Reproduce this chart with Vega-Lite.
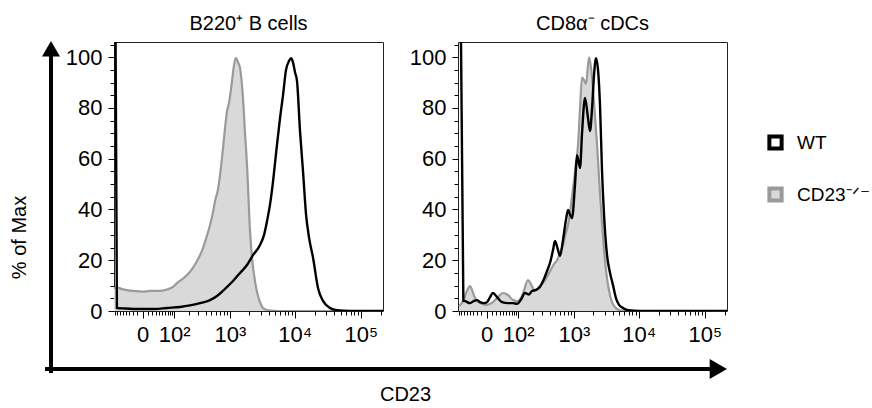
{
  "$schema": "https://vega.github.io/schema/vega-lite/v6.json",
  "background": "white",
  "padding": {"left": 9, "top": 13, "right": 0, "bottom": 0},
  "config": {
    "font": "Liberation Sans",
    "view": {"stroke": "#222", "strokeWidth": 1},
    "axis": {"labelFont": "Liberation Sans", "titleFont": "Liberation Sans", "labelColor": "#000", "titleColor": "#000", "tickColor": "#000", "tickWidth": 1, "grid": false, "domain": false, "titleFontWeight": "normal"},
    "title": {"font": "Liberation Sans", "fontSize": 20, "fontWeight": "normal", "color": "#000"},
    "legend": {"labelFont": "Liberation Sans"}
  },
  "datasets": {
    "hist": [
      {"panel": "B", "g": "CD23-/-", "x": -85, "y": 9.0},
      {"panel": "B", "g": "CD23-/-", "x": -71.5, "y": 9.2},
      {"panel": "B", "g": "CD23-/-", "x": -48.6, "y": 8.5},
      {"panel": "B", "g": "CD23-/-", "x": -19.6, "y": 7.9},
      {"panel": "B", "g": "CD23-/-", "x": 0.9, "y": 7.6},
      {"panel": "B", "g": "CD23-/-", "x": 14.9, "y": 7.9},
      {"panel": "B", "g": "CD23-/-", "x": 38.9, "y": 7.9},
      {"panel": "B", "g": "CD23-/-", "x": 67, "y": 8.5},
      {"panel": "B", "g": "CD23-/-", "x": 94.7, "y": 9.5},
      {"panel": "B", "g": "CD23-/-", "x": 116, "y": 11.0},
      {"panel": "B", "g": "CD23-/-", "x": 148, "y": 12.5},
      {"panel": "B", "g": "CD23-/-", "x": 186, "y": 14.2},
      {"panel": "B", "g": "CD23-/-", "x": 230, "y": 16.5},
      {"panel": "B", "g": "CD23-/-", "x": 284, "y": 19.7},
      {"panel": "B", "g": "CD23-/-", "x": 361, "y": 24.8},
      {"panel": "B", "g": "CD23-/-", "x": 407, "y": 28.5},
      {"panel": "B", "g": "CD23-/-", "x": 475, "y": 33.9},
      {"panel": "B", "g": "CD23-/-", "x": 533, "y": 39.0},
      {"panel": "B", "g": "CD23-/-", "x": 575, "y": 43.3},
      {"panel": "B", "g": "CD23-/-", "x": 644, "y": 48.0},
      {"panel": "B", "g": "CD23-/-", "x": 693, "y": 53.5},
      {"panel": "B", "g": "CD23-/-", "x": 775, "y": 64.2},
      {"panel": "B", "g": "CD23-/-", "x": 835, "y": 72},
      {"panel": "B", "g": "CD23-/-", "x": 899, "y": 78.7},
      {"panel": "B", "g": "CD23-/-", "x": 967, "y": 82},
      {"panel": "B", "g": "CD23-/-", "x": 1079, "y": 90.6},
      {"panel": "B", "g": "CD23-/-", "x": 1161, "y": 97},
      {"panel": "B", "g": "CD23-/-", "x": 1249, "y": 99.8},
      {"panel": "B", "g": "CD23-/-", "x": 1342, "y": 98},
      {"panel": "B", "g": "CD23-/-", "x": 1443, "y": 95.7},
      {"panel": "B", "g": "CD23-/-", "x": 1606, "y": 83.9},
      {"panel": "B", "g": "CD23-/-", "x": 1726, "y": 70},
      {"panel": "B", "g": "CD23-/-", "x": 1854, "y": 57.5},
      {"panel": "B", "g": "CD23-/-", "x": 2065, "y": 31.5},
      {"panel": "B", "g": "CD23-/-", "x": 2215, "y": 21},
      {"panel": "B", "g": "CD23-/-", "x": 2465, "y": 11.8},
      {"panel": "B", "g": "CD23-/-", "x": 2645, "y": 7.5},
      {"panel": "B", "g": "CD23-/-", "x": 2945, "y": 3.5},
      {"panel": "B", "g": "CD23-/-", "x": 3275, "y": 1.2},
      {"panel": "B", "g": "CD23-/-", "x": 3905, "y": 0.3},
      {"panel": "B", "g": "CD23-/-", "x": 5960, "y": 0},
      {"panel": "B", "g": "CD23-/-", "x": 217000, "y": 0},

      {"panel": "B", "g": "WT", "x": -85, "y": 110},
      {"panel": "B", "g": "WT", "x": -78, "y": 110},
      {"panel": "B", "g": "WT", "x": -72, "y": 1.2},
      {"panel": "B", "g": "WT", "x": -42, "y": 1.0},
      {"panel": "B", "g": "WT", "x": -4.2, "y": 0.8},
      {"panel": "B", "g": "WT", "x": 27, "y": 0.8},
      {"panel": "B", "g": "WT", "x": 67, "y": 1.2},
      {"panel": "B", "g": "WT", "x": 135, "y": 1.6},
      {"panel": "B", "g": "WT", "x": 211, "y": 2.2},
      {"panel": "B", "g": "WT", "x": 320, "y": 3.1},
      {"panel": "B", "g": "WT", "x": 475, "y": 4.3},
      {"panel": "B", "g": "WT", "x": 620, "y": 5.9},
      {"panel": "B", "g": "WT", "x": 835, "y": 8.7},
      {"panel": "B", "g": "WT", "x": 1119, "y": 11.8},
      {"panel": "B", "g": "WT", "x": 1443, "y": 15},
      {"panel": "B", "g": "WT", "x": 1854, "y": 18.1},
      {"panel": "B", "g": "WT", "x": 2295, "y": 22},
      {"panel": "B", "g": "WT", "x": 2945, "y": 26},
      {"panel": "B", "g": "WT", "x": 3395, "y": 30},
      {"panel": "B", "g": "WT", "x": 3770, "y": 35.4},
      {"panel": "B", "g": "WT", "x": 4195, "y": 42},
      {"panel": "B", "g": "WT", "x": 4660, "y": 51},
      {"panel": "B", "g": "WT", "x": 5180, "y": 62},
      {"panel": "B", "g": "WT", "x": 5960, "y": 76},
      {"panel": "B", "g": "WT", "x": 6620, "y": 85},
      {"panel": "B", "g": "WT", "x": 7355, "y": 95},
      {"panel": "B", "g": "WT", "x": 8170, "y": 98.5},
      {"panel": "B", "g": "WT", "x": 8765, "y": 99.6},
      {"panel": "B", "g": "WT", "x": 9400, "y": 98},
      {"panel": "B", "g": "WT", "x": 10090, "y": 94},
      {"panel": "B", "g": "WT", "x": 10815, "y": 90.6},
      {"panel": "B", "g": "WT", "x": 12000, "y": 71},
      {"panel": "B", "g": "WT", "x": 13340, "y": 55},
      {"panel": "B", "g": "WT", "x": 14835, "y": 38},
      {"panel": "B", "g": "WT", "x": 16450, "y": 29},
      {"panel": "B", "g": "WT", "x": 18940, "y": 21},
      {"panel": "B", "g": "WT", "x": 22540, "y": 9},
      {"panel": "B", "g": "WT", "x": 26800, "y": 4},
      {"panel": "B", "g": "WT", "x": 34250, "y": 1.2},
      {"panel": "B", "g": "WT", "x": 43750, "y": 0.3},
      {"panel": "B", "g": "WT", "x": 68850, "y": 0},
      {"panel": "B", "g": "WT", "x": 217000, "y": 0},

      {"panel": "DC", "g": "CD23-/-", "x": -80, "y": 2},
      {"panel": "DC", "g": "CD23-/-", "x": -63, "y": 3.9},
      {"panel": "DC", "g": "CD23-/-", "x": -48.6, "y": 8},
      {"panel": "DC", "g": "CD23-/-", "x": -38.8, "y": 9.8},
      {"panel": "DC", "g": "CD23-/-", "x": -27, "y": 6},
      {"panel": "DC", "g": "CD23-/-", "x": -19.6, "y": 3.9},
      {"panel": "DC", "g": "CD23-/-", "x": -8.5, "y": 2.8},
      {"panel": "DC", "g": "CD23-/-", "x": 0.9, "y": 2.4},
      {"panel": "DC", "g": "CD23-/-", "x": 12.7, "y": 3.5},
      {"panel": "DC", "g": "CD23-/-", "x": 24.6, "y": 5.5},
      {"panel": "DC", "g": "CD23-/-", "x": 38.9, "y": 7.1},
      {"panel": "DC", "g": "CD23-/-", "x": 55.7, "y": 6.3},
      {"panel": "DC", "g": "CD23-/-", "x": 76, "y": 4.3},
      {"panel": "DC", "g": "CD23-/-", "x": 99.8, "y": 3.9},
      {"panel": "DC", "g": "CD23-/-", "x": 128, "y": 7},
      {"panel": "DC", "g": "CD23-/-", "x": 162, "y": 12.2},
      {"panel": "DC", "g": "CD23-/-", "x": 186, "y": 10.5},
      {"panel": "DC", "g": "CD23-/-", "x": 221, "y": 7.9},
      {"panel": "DC", "g": "CD23-/-", "x": 261, "y": 9.5},
      {"panel": "DC", "g": "CD23-/-", "x": 308, "y": 11},
      {"panel": "DC", "g": "CD23-/-", "x": 361, "y": 13.5},
      {"panel": "DC", "g": "CD23-/-", "x": 407, "y": 15.7},
      {"panel": "DC", "g": "CD23-/-", "x": 475, "y": 18.5},
      {"panel": "DC", "g": "CD23-/-", "x": 533, "y": 20},
      {"panel": "DC", "g": "CD23-/-", "x": 597, "y": 23},
      {"panel": "DC", "g": "CD23-/-", "x": 668, "y": 26},
      {"panel": "DC", "g": "CD23-/-", "x": 747, "y": 31},
      {"panel": "DC", "g": "CD23-/-", "x": 805, "y": 33.9},
      {"panel": "DC", "g": "CD23-/-", "x": 899, "y": 42},
      {"panel": "DC", "g": "CD23-/-", "x": 967, "y": 48.4},
      {"panel": "DC", "g": "CD23-/-", "x": 1079, "y": 58},
      {"panel": "DC", "g": "CD23-/-", "x": 1161, "y": 65.4},
      {"panel": "DC", "g": "CD23-/-", "x": 1249, "y": 80},
      {"panel": "DC", "g": "CD23-/-", "x": 1342, "y": 92},
      {"panel": "DC", "g": "CD23-/-", "x": 1443, "y": 91},
      {"panel": "DC", "g": "CD23-/-", "x": 1550, "y": 89.5},
      {"panel": "DC", "g": "CD23-/-", "x": 1726, "y": 100},
      {"panel": "DC", "g": "CD23-/-", "x": 1854, "y": 96},
      {"panel": "DC", "g": "CD23-/-", "x": 2065, "y": 82},
      {"panel": "DC", "g": "CD23-/-", "x": 2295, "y": 66},
      {"panel": "DC", "g": "CD23-/-", "x": 2555, "y": 46},
      {"panel": "DC", "g": "CD23-/-", "x": 2845, "y": 29},
      {"panel": "DC", "g": "CD23-/-", "x": 3160, "y": 16},
      {"panel": "DC", "g": "CD23-/-", "x": 3515, "y": 8},
      {"panel": "DC", "g": "CD23-/-", "x": 3905, "y": 3.5},
      {"panel": "DC", "g": "CD23-/-", "x": 4345, "y": 1.5},
      {"panel": "DC", "g": "CD23-/-", "x": 5180, "y": 0.3},
      {"panel": "DC", "g": "CD23-/-", "x": 7355, "y": 0},
      {"panel": "DC", "g": "CD23-/-", "x": 217000, "y": 0},

      {"panel": "DC", "g": "WT", "x": -85, "y": 110},
      {"panel": "DC", "g": "WT", "x": -72, "y": 110},
      {"panel": "DC", "g": "WT", "x": -62, "y": 4},
      {"panel": "DC", "g": "WT", "x": -55.7, "y": 3.9},
      {"panel": "DC", "g": "WT", "x": -38.8, "y": 3.1},
      {"panel": "DC", "g": "WT", "x": -27, "y": 4.0},
      {"panel": "DC", "g": "WT", "x": -19.6, "y": 4.3},
      {"panel": "DC", "g": "WT", "x": -12.7, "y": 3.5},
      {"panel": "DC", "g": "WT", "x": -4.2, "y": 3.1},
      {"panel": "DC", "g": "WT", "x": 0.9, "y": 3.5},
      {"panel": "DC", "g": "WT", "x": 6.5, "y": 5.5},
      {"panel": "DC", "g": "WT", "x": 12.7, "y": 7.1},
      {"panel": "DC", "g": "WT", "x": 22, "y": 5.5},
      {"panel": "DC", "g": "WT", "x": 35.8, "y": 3.5},
      {"panel": "DC", "g": "WT", "x": 55.7, "y": 3.1},
      {"panel": "DC", "g": "WT", "x": 76, "y": 3.1},
      {"panel": "DC", "g": "WT", "x": 94.7, "y": 2.8},
      {"panel": "DC", "g": "WT", "x": 116, "y": 4.5},
      {"panel": "DC", "g": "WT", "x": 141, "y": 7.1},
      {"panel": "DC", "g": "WT", "x": 170, "y": 6.5},
      {"panel": "DC", "g": "WT", "x": 194, "y": 7.9},
      {"panel": "DC", "g": "WT", "x": 230, "y": 8.3},
      {"panel": "DC", "g": "WT", "x": 272, "y": 9.5},
      {"panel": "DC", "g": "WT", "x": 308, "y": 11.8},
      {"panel": "DC", "g": "WT", "x": 361, "y": 15.7},
      {"panel": "DC", "g": "WT", "x": 407, "y": 19},
      {"panel": "DC", "g": "WT", "x": 457, "y": 24},
      {"panel": "DC", "g": "WT", "x": 493, "y": 27.6},
      {"panel": "DC", "g": "WT", "x": 553, "y": 24},
      {"panel": "DC", "g": "WT", "x": 597, "y": 21.7},
      {"panel": "DC", "g": "WT", "x": 668, "y": 28},
      {"panel": "DC", "g": "WT", "x": 747, "y": 36},
      {"panel": "DC", "g": "WT", "x": 805, "y": 39.8},
      {"panel": "DC", "g": "WT", "x": 866, "y": 38},
      {"panel": "DC", "g": "WT", "x": 932, "y": 36.6},
      {"panel": "DC", "g": "WT", "x": 1041, "y": 50},
      {"panel": "DC", "g": "WT", "x": 1119, "y": 61.4},
      {"panel": "DC", "g": "WT", "x": 1249, "y": 56.3},
      {"panel": "DC", "g": "WT", "x": 1342, "y": 70},
      {"panel": "DC", "g": "WT", "x": 1495, "y": 84},
      {"panel": "DC", "g": "WT", "x": 1665, "y": 76},
      {"panel": "DC", "g": "WT", "x": 1790, "y": 70.9},
      {"panel": "DC", "g": "WT", "x": 1925, "y": 80},
      {"panel": "DC", "g": "WT", "x": 2065, "y": 93},
      {"panel": "DC", "g": "WT", "x": 2215, "y": 99.6},
      {"panel": "DC", "g": "WT", "x": 2380, "y": 95},
      {"panel": "DC", "g": "WT", "x": 2555, "y": 81},
      {"panel": "DC", "g": "WT", "x": 2745, "y": 55},
      {"panel": "DC", "g": "WT", "x": 2945, "y": 38},
      {"panel": "DC", "g": "WT", "x": 3275, "y": 22},
      {"panel": "DC", "g": "WT", "x": 3645, "y": 15},
      {"panel": "DC", "g": "WT", "x": 4045, "y": 10.2},
      {"panel": "DC", "g": "WT", "x": 4500, "y": 5},
      {"panel": "DC", "g": "WT", "x": 5000, "y": 2.4},
      {"panel": "DC", "g": "WT", "x": 5755, "y": 1.2},
      {"panel": "DC", "g": "WT", "x": 6860, "y": 0.3},
      {"panel": "DC", "g": "WT", "x": 10440, "y": 0},
      {"panel": "DC", "g": "WT", "x": 217000, "y": 0}
    ]
  },
  "bounds": "flush",
  "spacing": 57,
  "resolve": {"scale": {"fill": "shared", "stroke": "shared"}},
  "hconcat": [
    {
      "width": 12,
      "height": 269,
      "view": {"stroke": null},
      "data": {"values": [{}]},
      "layer": [
        {
          "mark": {"type": "rule", "strokeWidth": 4, "color": "#000", "clip": false, "strokeCap": "square"},
          "encoding": {
            "x": {"datum": 0.5, "type": "quantitative", "scale": {"domain": [0, 1], "nice": false, "zero": false},
              "axis": {"title": "CD23", "labels": false, "ticks": false, "domain": false, "titleFontSize": 20, "titleX": 360, "titleY": 83, "titleBaseline": "middle", "titleAlign": "center"}},
            "y": {"datum": -0.223, "type": "quantitative", "scale": {"domain": [0, 1], "nice": false, "zero": false},
              "axis": {"title": "% of Max", "labels": false, "ticks": false, "domain": false, "titleFontSize": 20, "titleX": -26, "titleY": 195, "titleAngle": -90, "titleBaseline": "middle", "titleAlign": "center"}},
            "y2": {"datum": 0.97}
          }
        },
        {
          "mark": {"type": "point", "shape": "triangle-up", "size": 324, "filled": true, "color": "#000", "opacity": 1, "clip": false},
          "encoding": {
            "x": {"datum": 0.5, "type": "quantitative"},
            "y": {"datum": 0.975, "type": "quantitative"}
          }
        },
        {
          "mark": {"type": "rule", "strokeWidth": 4, "color": "#000", "clip": false},
          "encoding": {
            "x": {"datum": 0, "type": "quantitative"},
            "x2": {"datum": 56.0},
            "y": {"datum": -0.2156, "type": "quantitative"}
          }
        },
        {
          "mark": {"type": "point", "shape": "triangle-right", "size": 400, "filled": true, "color": "#000", "opacity": 1, "clip": false},
          "encoding": {
            "x": {"datum": 56.11, "type": "quantitative"},
            "y": {"datum": -0.2156, "type": "quantitative"}
          }
        }
      ]
    },
    {
      "bounds": "flush",
      "spacing": 75,
      "hconcat": [
        {
          "width": 269,
          "height": 269,
          "title": {"text": "B220⁺ B cells", "fontSize": 20, "offset": 0, "anchor": "middle", "frame": "group"},
          "data": {"name": "hist"},
          "transform": [{"filter": "datum.panel == 'B'"}],
          "encoding": {
            "x": {"field": "x", "type": "quantitative",
              "scale": {"type": "symlog", "constant": 50, "domain": [-85, 217000], "nice": false, "zero": false},
              "axis": {"title": null, "values": [-80,-70,-60,-50,-40,-30,-20,-10,0,10,20,30,40,50,60,70,80,90,100,200,300,400,500,600,700,800,900,1000,2000,3000,4000,5000,6000,7000,8000,9000,10000,20000,30000,40000,50000,60000,70000,80000,90000,100000,200000],
                "labelExpr": "datum.value == 0 ? '0' : datum.value == 100 ? '10²' : datum.value == 1000 ? '10³' : datum.value == 10000 ? '10⁴' : datum.value == 100000 ? '10⁵' : ''",
                "tickSize": {"condition": {"test": "indexof([0,100,1000,10000,100000], datum.value) >= 0", "value": 7}, "value": 4},
                "labelFontSize": 22, "labelPadding": 6, "labelOverlap": false, "labelFlush": false}},
            "y": {"field": "y", "type": "quantitative", "stack": null,
              "scale": {"domain": [0, 106], "nice": false, "zero": false},
              "axis": {"title": null, "values": [0,5,10,15,20,25,30,35,40,45,50,55,60,65,70,75,80,85,90,95,100,105],
                "labelExpr": "datum.value % 20 == 0 ? datum.label : ''",
                "tickSize": {"condition": {"test": "datum.value % 20 == 0", "value": 6}, "value": 4},
                "labelFontSize": 22, "labelPadding": 6, "labelOverlap": false, "labelFlush": false}}
          },
          "layer": [
            {
              "transform": [{"filter": "datum.g == 'CD23-/-'"}],
              "mark": {"type": "area", "interpolate": "monotone", "clip": true},
              "encoding": {
                "fill": {"field": "g", "type": "nominal", "scale": {"domain": ["WT", "CD23-/-"], "range": ["#ffffff", "#d9d9d9"]},
                  "legend": {"title": null, "orient": "none", "legendX": 721, "legendY": 91, "symbolType": "square", "symbolSize": 150, "symbolStrokeWidth": 4, "labelFontSize": 19, "labelColor": "#000", "rowPadding": 23, "labelOffset": 12,
                    "labelExpr": "datum.label == 'CD23-/-' ? 'CD23⁻ᐟ⁻' : datum.label"}}
              }
            },
            {
              "transform": [{"filter": "datum.g == 'CD23-/-'"}],
              "mark": {"type": "line", "interpolate": "monotone", "strokeWidth": 2.2, "clip": true},
              "encoding": {
                "stroke": {"field": "g", "type": "nominal", "scale": {"domain": ["WT", "CD23-/-"], "range": ["#000000", "#9a9a9a"]},
                  "legend": {"title": null, "orient": "none", "legendX": 721, "legendY": 91, "symbolType": "square", "symbolSize": 150, "symbolStrokeWidth": 4, "labelFontSize": 19, "labelColor": "#000", "rowPadding": 23, "labelOffset": 12,
                    "labelExpr": "datum.label == 'CD23-/-' ? 'CD23⁻ᐟ⁻' : datum.label"}}
              }
            },
            {
              "transform": [{"filter": "datum.g == 'WT'"}],
              "mark": {"type": "line", "interpolate": "monotone", "strokeWidth": 2.4, "clip": true},
              "encoding": {"stroke": {"field": "g", "type": "nominal"}}
            }
          ]
        },
        {
          "width": 269,
          "height": 269,
          "title": {"text": "CD8α⁻ cDCs", "fontSize": 20, "offset": 0, "anchor": "middle", "frame": "group"},
          "data": {"name": "hist"},
          "transform": [{"filter": "datum.panel == 'DC'"}],
          "encoding": {
            "x": {"field": "x", "type": "quantitative",
              "scale": {"type": "symlog", "constant": 50, "domain": [-85, 217000], "nice": false, "zero": false},
              "axis": {"title": null, "values": [-80,-70,-60,-50,-40,-30,-20,-10,0,10,20,30,40,50,60,70,80,90,100,200,300,400,500,600,700,800,900,1000,2000,3000,4000,5000,6000,7000,8000,9000,10000,20000,30000,40000,50000,60000,70000,80000,90000,100000,200000],
                "labelExpr": "datum.value == 0 ? '0' : datum.value == 100 ? '10²' : datum.value == 1000 ? '10³' : datum.value == 10000 ? '10⁴' : datum.value == 100000 ? '10⁵' : ''",
                "tickSize": {"condition": {"test": "indexof([0,100,1000,10000,100000], datum.value) >= 0", "value": 7}, "value": 4},
                "labelFontSize": 22, "labelPadding": 6, "labelOverlap": false, "labelFlush": false}},
            "y": {"field": "y", "type": "quantitative", "stack": null,
              "scale": {"domain": [0, 106], "nice": false, "zero": false},
              "axis": {"title": null, "values": [0,5,10,15,20,25,30,35,40,45,50,55,60,65,70,75,80,85,90,95,100,105],
                "labelExpr": "datum.value % 20 == 0 ? datum.label : ''",
                "tickSize": {"condition": {"test": "datum.value % 20 == 0", "value": 6}, "value": 4},
                "labelFontSize": 22, "labelPadding": 6, "labelOverlap": false, "labelFlush": false}}
          },
          "layer": [
            {
              "transform": [{"filter": "datum.g == 'CD23-/-'"}],
              "mark": {"type": "area", "interpolate": "monotone", "clip": true},
              "encoding": {"fill": {"field": "g", "type": "nominal"}}
            },
            {
              "transform": [{"filter": "datum.g == 'CD23-/-'"}],
              "mark": {"type": "line", "interpolate": "monotone", "strokeWidth": 2.2, "clip": true},
              "encoding": {"stroke": {"field": "g", "type": "nominal"}}
            },
            {
              "transform": [{"filter": "datum.g == 'WT'"}],
              "mark": {"type": "line", "interpolate": "monotone", "strokeWidth": 2.4, "clip": true},
              "encoding": {"stroke": {"field": "g", "type": "nominal"}}
            }
          ]
        }
      ]
    }
  ]
}
